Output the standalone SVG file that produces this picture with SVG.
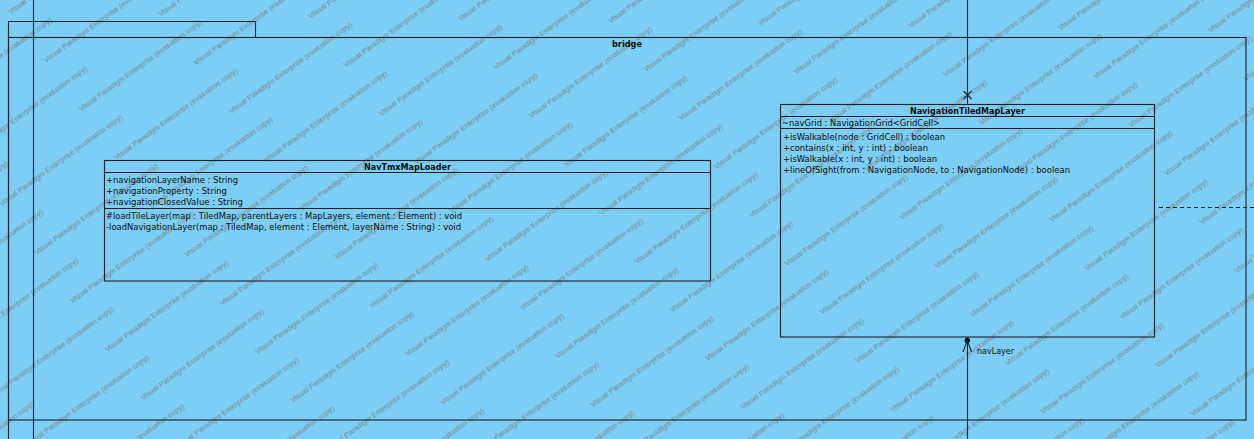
<svg xmlns="http://www.w3.org/2000/svg" width="1254" height="439" viewBox="0 0 1254 439">
<style>
  .ln { fill: none; stroke: #14222e; stroke-width: 1.1; }
  .box { fill: none; stroke: #14222e; stroke-width: 1.1; }
  .t { font-family: "DejaVu Sans", "Liberation Sans", sans-serif; font-size: 9px; fill: #0c0c0c; }
  .b { font-family: "DejaVu Sans", "Liberation Sans", sans-serif; font-size: 9px; font-weight: bold; fill: #0c0c0c; }
  .wm { font-family: "Liberation Sans", Arial, sans-serif; font-size: 7.5px; fill: #7a8790; }
</style>
<defs>
  <pattern id="wmPat" patternUnits="userSpaceOnUse" width="240" height="60" patternTransform="rotate(-36)">
    <text class="wm" x="0" y="18">Visual Paradigm Enterprise (evaluation copy)</text>
    <text class="wm" x="120" y="48">Visual Paradigm Enterprise (evaluation copy)</text>
    <text class="wm" x="-120" y="48">Visual Paradigm Enterprise (evaluation copy)</text>
  </pattern>
</defs>
<rect x="0" y="0" width="1254" height="439" fill="#7ccef4"/>
<rect x="0" y="0" width="1254" height="439" fill="url(#wmPat)"/>

<g id="package-bridge">
  <path class="ln" d="M8.5,439 V21.5 H255.5 V37.5"/>
  <rect class="box" x="8.5" y="37.5" width="1237.5" height="382.5"/>
  <text class="b" x="627" y="46.5" text-anchor="middle" textLength="30" lengthAdjust="spacingAndGlyphs">bridge</text>
</g>

<g id="NavTmxMapLoader">
  <rect class="box" x="104.5" y="160.5" width="606" height="120.5"/>
  <line class="ln" x1="104.5" y1="172.5" x2="710.5" y2="172.5"/>
  <line class="ln" x1="104.5" y1="208.5" x2="710.5" y2="208.5"/>
  <text class="b" x="407.5" y="169.8" text-anchor="middle" textLength="87" lengthAdjust="spacingAndGlyphs">NavTmxMapLoader</text>
  <text class="t" x="106" y="182.5" textLength="132" lengthAdjust="spacingAndGlyphs">+navigationLayerName : String</text>
  <text class="t" x="106" y="193.8" textLength="121" lengthAdjust="spacingAndGlyphs">+navigationProperty : String</text>
  <text class="t" x="106" y="205" textLength="137" lengthAdjust="spacingAndGlyphs">+navigationClosedValue : String</text>
  <text class="t" x="106" y="218.5" textLength="356" lengthAdjust="spacingAndGlyphs">#loadTileLayer(map : TiledMap, parentLayers : MapLayers, element : Element) : void</text>
  <text class="t" x="106" y="229.8" textLength="355" lengthAdjust="spacingAndGlyphs">-loadNavigationLayer(map : TiledMap, element : Element, layerName : String) : void</text>
</g>

<g id="NavigationTiledMapLayer">
  <rect class="box" x="780.5" y="104.5" width="374" height="232.5"/>
  <line class="ln" x1="780.5" y1="116.5" x2="1154.5" y2="116.5"/>
  <line class="ln" x1="780.5" y1="128.5" x2="1154.5" y2="128.5"/>
  <text class="b" x="967.5" y="113.8" text-anchor="middle" textLength="115" lengthAdjust="spacingAndGlyphs">NavigationTiledMapLayer</text>
  <text class="t" x="782" y="125.5" textLength="158" lengthAdjust="spacingAndGlyphs">~navGrid : NavigationGrid&lt;GridCell&gt;</text>
  <text class="t" x="783" y="139.5" textLength="162" lengthAdjust="spacingAndGlyphs">+isWalkable(node : GridCell) : boolean</text>
  <text class="t" x="783" y="150.7" textLength="145" lengthAdjust="spacingAndGlyphs">+contains(x : int, y : int) : boolean</text>
  <text class="t" x="783" y="161.9" textLength="154" lengthAdjust="spacingAndGlyphs">+isWalkable(x : int, y : int) : boolean</text>
  <text class="t" x="783" y="173.1" textLength="287" lengthAdjust="spacingAndGlyphs">+lineOfSight(from : NavigationNode, to : NavigationNode) : boolean</text>
</g>

<g id="connectors">
  <line class="ln" x1="33.5" y1="0" x2="33.5" y2="439"/>
  <line class="ln" x1="967.5" y1="0" x2="967.5" y2="104.5"/>
  <path class="ln" d="M963.5,91 L971.5,99 M971.5,91 L963.5,99"/>
  <line class="ln" x1="967.5" y1="337" x2="967.5" y2="439"/>
  <circle cx="967.3" cy="340.5" r="2.7" fill="#0c0c0c"/>
  <path class="ln" d="M963,352 L967.3,340.5 L971.6,352"/>
  <text class="t" x="977" y="353.5" textLength="37" lengthAdjust="spacingAndGlyphs">navLayer</text>
  <line class="ln" x1="1159" y1="207.5" x2="1254" y2="207.5" stroke-dasharray="4,3"/>
</g>
</svg>
